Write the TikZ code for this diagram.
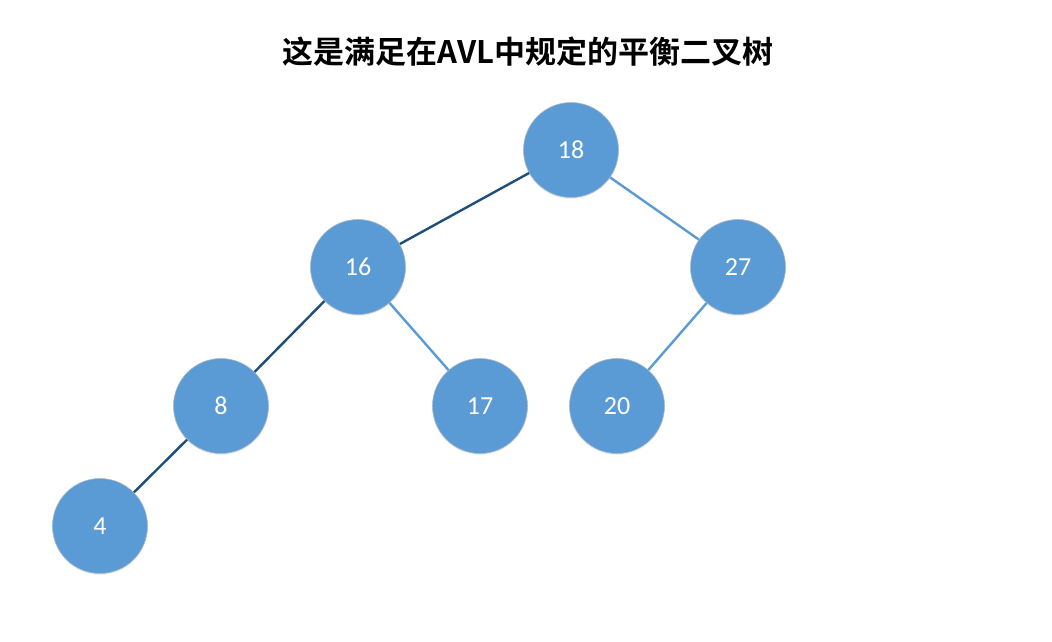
\documentclass[tikz,border=0pt]{standalone}
\usepackage{fontspec}
\setmainfont{Carlito}
\newfontfamily\cjk{Noto Sans CJK SC Bold}
\usetikzlibrary{positioning,shadows}
\definecolor{nodeblue}{HTML}{5B9BD5}
\definecolor{darkedge}{HTML}{1F4E79}
\definecolor{rimgray}{HTML}{A9B7C6}

\begin{document}
\begin{tikzpicture}[x=1pt, y=-1pt, tn/.style={circle, draw=rimgray, line width=0.6pt, fill=nodeblue, text=white, minimum size=95pt, inner sep=0pt, font=\fontsize{26}{28}\selectfont, drop shadow={opacity=0.12, shadow xshift=0pt, shadow yshift=-1.5pt}}, dk/.style={draw=darkedge, line width=2.4pt}, lt/.style={draw=nodeblue, line width=2.4pt}]
		\useasboundingbox (0,0) rectangle (1052,642);
		\node [font=\cjk\fontsize{31}{34}\selectfont] (title) at (528,52) {这是满足在AVL中规定的平衡二叉树};
		\node [tn] (18) at (571,150) {18};
		\node [tn] (16) at (358,267) {16};
		\node [tn] (27) at (738,267) {27};
		\node [tn] (8) at (221,406) {8};
		\node [tn] (17) at (480,406) {17};
		\node [tn] (20) at (617,406) {20};
		\node [tn] (4) at (100,526) {4};
		
		\draw [dk] (18) -- (16);
		\draw [lt] (18) -- (27);
		\draw [dk] (16) -- (8);
		\draw [lt] (16) -- (17);
		\draw [lt] (27) -- (20);
		\draw [dk] (8) -- (4);
		
	\end{tikzpicture}
\end{document}
